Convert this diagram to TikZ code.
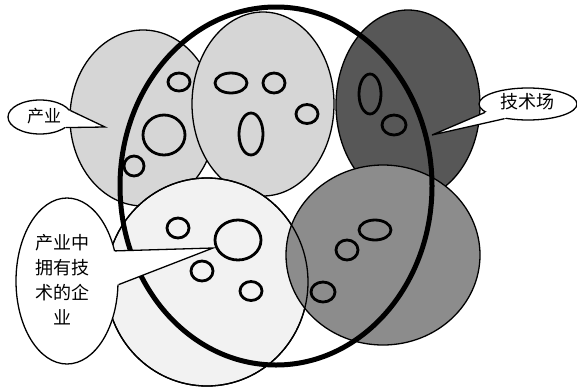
\documentclass[tikz,border=0pt]{standalone}
\usepackage{fontspec}
\newfontfamily\cjk{Noto Sans CJK SC}
\usetikzlibrary{shapes.geometric,calc}
\definecolor{lightblob}{gray}{0.84}
\definecolor{darkblob}{gray}{0.34}
\definecolor{midblob}{gray}{0.55}
\definecolor{paleblob}{gray}{0.95}
\begin{document}
\begin{tikzpicture}[x=1pt,y=-1pt,
  blob/.style={draw=black,line width=1.3pt},
  dot/.style={draw=black,line width=2.8pt},
  bigring/.style={draw=black,line width=5pt},
  bubble/.style={ellipse,draw=black,fill=white,line width=1.3pt,inner sep=0pt},
  tailline/.style={draw=black,line width=1.3pt,line join=miter},
  lbl/.style={font=\cjk\fontsize{17}{20}\selectfont,inner sep=0pt},
  lblbig/.style={font=\cjk\fontsize{18}{25}\selectfont,inner sep=0pt,align=center}]
\useasboundingbox (0,0) rectangle (577,386);
\fill[white] (0,0) rectangle (577,386);
% large ellipses
\path[blob,fill=lightblob] (143,118) ellipse [x radius=73, y radius=88];
\path[blob,fill=lightblob] (263,104) ellipse [x radius=71, y radius=92];
\path[blob,fill=darkblob] (408,105) ellipse [x radius=72, y radius=95];
\path[blob,fill=paleblob] (207,282) ellipse [x radius=101, y radius=104];
\path[blob,fill=midblob] (383,255) ellipse [x radius=97, y radius=90];
\path[blob] (207,282) ellipse [x radius=101, y radius=104];
% small ellipses
\path[dot] (179,82) ellipse [x radius=11, y radius=9];
\path[dot] (164,135) ellipse [x radius=21, y radius=20];
\path[dot] (134,166) ellipse [x radius=10, y radius=10];
\path[dot] (231,83) ellipse [x radius=16, y radius=10];
\path[dot] (274,83) ellipse [x radius=11, y radius=10];
\path[dot] (307,114) ellipse [x radius=11, y radius=9.5];
\path[dot] (251,134) ellipse [x radius=12, y radius=21];
\path[dot] (370,94) ellipse [x radius=11, y radius=20];
\path[dot] (394,125) ellipse [x radius=12, y radius=10];
\path[dot] (178,228) ellipse [x radius=11, y radius=10];
\path[dot] (238,240) ellipse [x radius=23, y radius=20];
\path[dot] (202,271) ellipse [x radius=11, y radius=10];
\path[dot] (251,291) ellipse [x radius=11, y radius=9.5];
\path[dot] (375,230) ellipse [x radius=16, y radius=10];
\path[dot] (347,250) ellipse [x radius=11, y radius=10];
\path[dot] (323,292) ellipse [x radius=12, y radius=10];
% thick ring
\path[bigring] (276,186) ellipse [x radius=156, y radius=179];
% bubble 1
\node[bubble,minimum width=64pt,minimum height=34pt] (b1) at (40,117) {};
\coordinate (tip1) at (105,127);
\fill[white] ($(b1.12)!2.5pt!(b1.center)$) -- (b1.12) -- (tip1) -- (b1.-22) -- ($(b1.-22)!2.5pt!(b1.center)$) -- cycle;
\draw[tailline] (b1.12) -- (tip1) -- (b1.-22);
\node[lbl] (t1) at (44,116) {产业};
% bubble 2
\node[bubble,minimum width=98pt,minimum height=32pt] (b2) at (528,104) {};
\coordinate (tip2) at (432,135);
\fill[white] ($(b2.191)!2.5pt!(b2.center)$) -- (b2.191) -- (tip2) -- (b2.212) -- ($(b2.212)!2.5pt!(b2.center)$) -- cycle;
\draw[tailline] (b2.191) -- (tip2) -- (b2.212);
\node[lbl,font=\cjk\fontsize{18}{20}\selectfont] (t2) at (527,102) {技术场};
% bubble 3
\node[bubble,minimum width=102pt,minimum height=166pt] (b3) at (67,281) {};
\coordinate (tip3) at (213,248);
\fill[white] ($(b3.32)!2.5pt!(b3.center)$) -- (b3.32) -- (tip3) -- (b3.-4) -- ($(b3.-4)!2.5pt!(b3.center)$) -- cycle;
\draw[tailline] (b3.32) -- (tip3) -- (b3.-4);
\node[lblbig] (t3) at (62,280) {产业中\\拥有技\\术的企\\业};
\end{tikzpicture}
\end{document}
